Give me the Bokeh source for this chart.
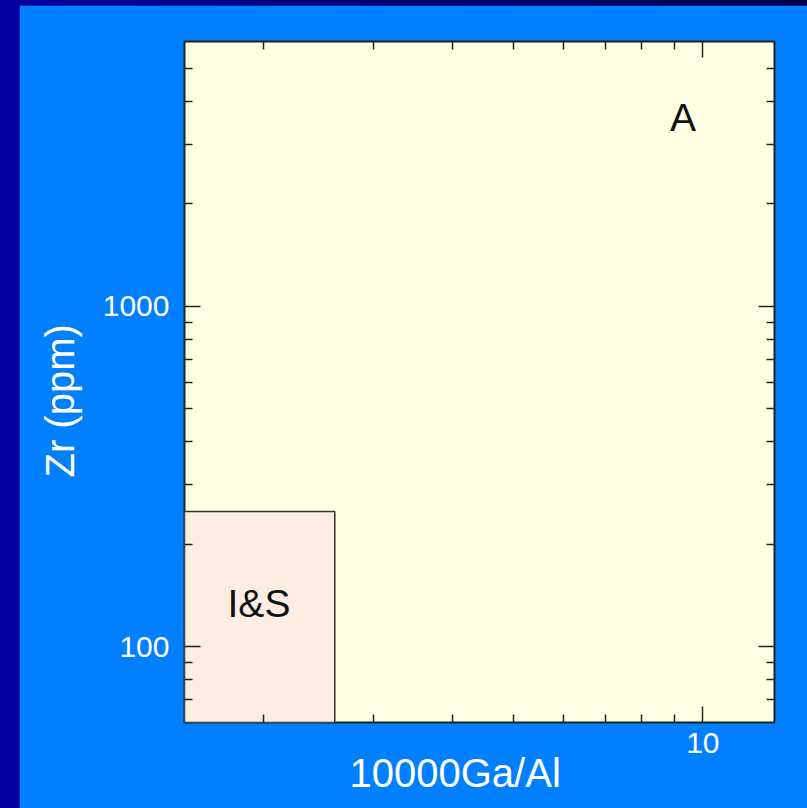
from bokeh.plotting import figure
from bokeh.models import FixedTicker, LogAxis, BasicTickFormatter, Title
from bokeh.layouts import column
from bokeh.embed import file_html
from bokeh.resources import INLINE
from bokeh.core.properties import value

# ---- data ----
x_range_limits = [1.5, 13]          # 10000Ga/Al
y_range_limits = [60, 6000]         # Zr (ppm)
x_major_ticks = [10]
x_minor_ticks = [2, 3, 4, 5, 6, 7, 8, 9]
y_major_ticks = [100, 1000]
y_minor_ticks = [70, 80, 90, 200, 300, 400, 500, 600, 700, 800, 900,
                 2000, 3000, 4000, 5000]
# I&S field (Whalen et al.): Ga/Al < 2.6, Zr < 250
is_field_x = [1.5, 2.6]
is_field_y = [60, 250]
field_labels = ["A", "I&S"]
field_label_x = [9.3, 1.97]
field_label_y = [3600, 134]
x_title = "10000Ga/Al"
y_title = "Zr (ppm)"

FONT = "Liberation Sans"
BLUE = "#0080FF"
INK = "#222222"

p = figure(width=789, height=803,
           x_axis_type="log", y_axis_type="log",
           x_range=tuple(x_range_limits), y_range=tuple(y_range_limits),
           output_backend="svg", toolbar_location=None,
           min_border_left=165, min_border_right=34,
           min_border_top=36, min_border_bottom=86)

p.background_fill_color = "#FFFFE3"
p.border_fill_color = BLUE
p.outline_line_color = INK
p.outline_line_width = 2
p.grid.visible = False

# I&S field box
p.quad(left=[is_field_x[0]], right=[is_field_x[1]],
       bottom=[is_field_y[0]], top=[is_field_y[1]],
       fill_color="#FDEEE1", line_color="#333333", line_width=1.5)

# field labels
p.text(x=field_label_x, y=field_label_y, text=field_labels,
       text_font=value(FONT), text_font_size="39px", text_color="#111111",
       text_align="center", text_baseline="middle")


def style_axis(ax, show_labels):
    ax.axis_line_color = None
    ax.major_tick_in = 16
    ax.major_tick_out = 0
    ax.minor_tick_in = 8
    ax.minor_tick_out = 0
    ax.major_tick_line_color = INK
    ax.minor_tick_line_color = INK
    ax.major_tick_line_width = 1.5
    ax.minor_tick_line_width = 1.5
    if show_labels:
        ax.formatter = BasicTickFormatter()
        ax.major_label_text_font = FONT
        ax.major_label_text_font_size = "30px"
        ax.major_label_text_color = "white"
    else:
        ax.major_label_text_font_size = "0px"
        ax.major_label_text_color = None


xa = p.xaxis[0]
xa.ticker = FixedTicker(ticks=x_major_ticks, minor_ticks=x_minor_ticks)
style_axis(xa, True)
xa.major_label_standoff = 10

ya = p.yaxis[0]
ya.ticker = FixedTicker(ticks=y_major_ticks, minor_ticks=y_minor_ticks)
style_axis(ya, True)
ya.major_label_standoff = 15

top = LogAxis(ticker=FixedTicker(ticks=x_major_ticks, minor_ticks=x_minor_ticks))
style_axis(top, False)
p.add_layout(top, "above")

right = LogAxis(ticker=FixedTicker(ticks=y_major_ticks, minor_ticks=y_minor_ticks))
style_axis(right, False)
p.add_layout(right, "right")

# axis titles (slightly off-centre, as in the original slide)
p.add_layout(Title(text=x_title, align="left", offset=165, vertical_align="top",
                   standoff=-10, text_font=FONT, text_font_size="40px",
                   text_font_style="normal", text_color="white"), "below")
p.add_layout(Title(text=y_title, align="left", offset=245, vertical_align="top",
                   standoff=32, text_font=FONT, text_font_size="40px",
                   text_font_style="normal", text_color="white"), "left")

p.margin = (5, 0, 0, 19)
layout = column(p, styles={"background": "linear-gradient(to right, #0000A0 0%, #00007A 40%, #000050 100%)"})

open("out.html", "w").write(file_html(layout, INLINE))
